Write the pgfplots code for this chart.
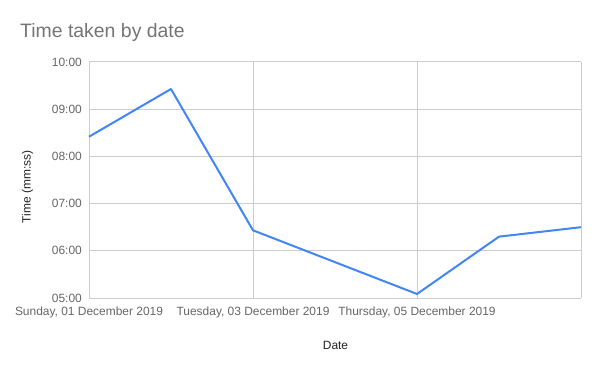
\documentclass[border=0pt]{standalone}
\usepackage{fontspec}
\setmainfont{Liberation Sans}
\usepackage{pgfplots}
\pgfplotsset{compat=1.18}
\definecolor{lineblue}{HTML}{4285F4}
\definecolor{gridc}{HTML}{CCCCCC}
\definecolor{tickc}{HTML}{666666}
\definecolor{titlec}{HTML}{757575}
\definecolor{labc}{HTML}{222222}
\begin{document}
\begin{tikzpicture}[x=1bp,y=1bp]
\path[fill=white] (0,0) rectangle (600,371);
\begin{axis}[at={(89bp,73bp)}, anchor=south west, scale only axis,
  width=492bp, height=236bp,
  xmin=0, xmax=6, ymin=5, ymax=10,
  axis line style={draw=none},
  major tick length=0pt,
  grid=major,
  grid style={gridc, line width=1bp},
  xtick={0,2,4,6},
  xticklabels={{Sunday, 01 December 2019},{Tuesday, 03 December 2019},{Thursday, 05 December 2019},{}},
  ytick={5,6,7,8,9,10},
  yticklabels={05:00,06:00,07:00,08:00,09:00,10:00},
  xticklabel style={font=\fontsize{12}{12}\selectfont, text=tickc, inner sep=0pt, anchor=north, yshift=-8.5bp},
  yticklabel style={font=\fontsize{12}{12}\selectfont, text=tickc, inner sep=0pt, anchor=east, xshift=-7bp},
  clip=false,
]
\addplot[lineblue, line width=2bp, line join=round] coordinates {
  (0,8.417) (1,9.428) (2,6.434) (4,5.085) (5,6.30) (6,6.50)
};
\end{axis}
\node[anchor=base west, font=\fontsize{19.5}{19.5}\selectfont, text=titlec, inner sep=0pt] at (20,333.7) {Time taken by date};
\node[rotate=90, anchor=center, font=\fontsize{12}{12}\selectfont, text=labc, inner sep=0pt] at (27.5,184) {Time (mm:ss)};
\node[anchor=base, font=\fontsize{12}{12}\selectfont, text=labc, inner sep=0pt] at (335.5,21.7) {Date};
\end{tikzpicture}
\end{document}
